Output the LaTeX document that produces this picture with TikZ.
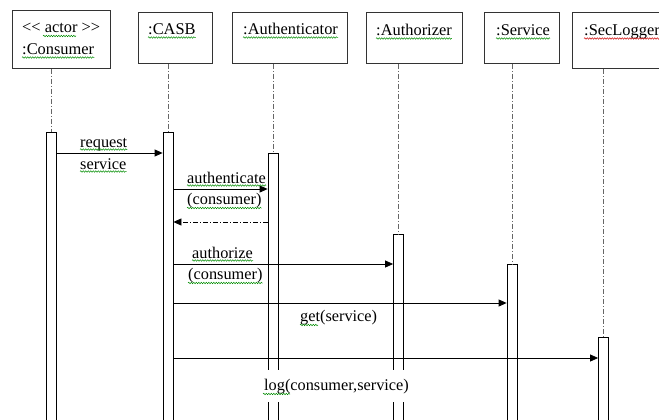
\documentclass[tikz,border=0pt]{standalone}
\usepackage{fontspec}
\setmainfont{Liberation Serif}
\usetikzlibrary{arrows.meta,decorations.pathmorphing}
\begin{document}
\begin{tikzpicture}[x=1pt,y=-1pt,
  objbox/.style={draw=black!80, line width=0.9pt, inner sep=0pt, anchor=north west},
  otext/.style={anchor=base west, inner sep=0pt, font=\fontsize{16.4}{20}\selectfont},
  lbl/.style={anchor=base west, inner sep=0pt, font=\fontsize{16.3}{20}\selectfont},
  lifeline/.style={draw=black!60, line width=0.8pt, dash pattern=on 5pt off 2pt on 1pt off 2pt},
  actbar/.style={draw=black, fill=white, line width=0.8pt, minimum width=10pt, inner sep=0pt, anchor=north},
  msg/.style={draw=black, line width=0.8pt, -{Triangle[length=8pt,width=7pt]}},
  ret/.style={msg, dash pattern=on 5pt off 2pt on 1pt off 2pt},
  squig/.style={draw=green!55!black, line width=0.5pt, decorate, decoration={snake, amplitude=0.7pt, segment length=2.5pt}},
  squigr/.style={squig, draw=red!80!black},
]
\path[use as bounding box] (0,0) rectangle (659,420);
\clip (0,0) rectangle (659,420);

% object boxes
\node[objbox, minimum width=98pt, minimum height=58pt] (consumer) at (12,10) {};
\node[objbox, minimum width=74pt, minimum height=51pt] (casb) at (138,12) {};
\node[objbox, minimum width=115pt, minimum height=51pt] (authn) at (232,12) {};
\node[objbox, minimum width=96pt, minimum height=51pt] (authz) at (366,12) {};
\node[objbox, minimum width=75pt, minimum height=51pt] (service) at (484,12) {};
\node[objbox, minimum width=110pt, minimum height=56pt] (logger) at (572,12) {};

% object names
\node[otext] (tactor) at (22,33) {{<}{<} actor {>}{>}};
\node[otext] (tcons) at (22,55) {:Consumer};
\node[otext] (tcasb) at (148,35) {:CASB};
\node[otext] (tauthn) at (243,35) {:Authenticator};
\node[otext] (tauthz) at (376,36) {:Authorizer};
\node[otext] (tserv) at (496,36) {:Service};
\node[otext] (tlog) at (584,36) {:SecLogger};

% activation bars
\node[actbar, minimum height=300pt] (cb) at (51,132) {};
\node[actbar, minimum height=300pt] (sb) at (168,132) {};
\node[actbar, minimum height=300pt] (ab) at (273,153) {};
\node[actbar, minimum height=300pt] (zb) at (398.5,234) {};
\node[actbar, minimum height=300pt] (vb) at (512,264) {};
\node[actbar, minimum height=300pt] (lb) at (603.5,337) {};

% lifelines
\draw[lifeline] (cb.north |- consumer.south) -- (cb.north);
\draw[lifeline] (sb.north |- casb.south) -- (sb.north);
\draw[lifeline] (ab.north |- authn.south) -- (ab.north);
\draw[lifeline] (zb.north |- authz.south) -- (zb.north);
\draw[lifeline] (vb.north |- service.south) -- (vb.north);
\draw[lifeline] (lb.north |- logger.south) -- (lb.north);

% message levels
\coordinate (m1) at (0,153);
\coordinate (m2) at (0,189);
\coordinate (m3) at (0,222);
\coordinate (m4) at (0,264);
\coordinate (m5) at (0,303);
\coordinate (m6) at (0,358);

\draw[msg] (cb.east |- m1) -- (sb.west |- m1);
\draw[msg] (sb.east |- m2) -- (ab.west |- m2);
\draw[ret] (ab.west |- m3) -- (sb.east |- m3);
\draw[msg] (sb.east |- m4) -- (zb.west |- m4);
\draw[msg] (sb.east |- m5) -- (vb.west |- m5);
\draw[msg] (sb.east |- m6) -- (lb.west |- m6);

% message labels
\node[lbl] (l1a) at (80,147) {request};
\node[lbl] (l1b) at (80,169) {service};
\node[lbl] (l2a) at (187,183) {authenticate};
\node[lbl] (l2b) at (187,204) {(consumer)};
\node[lbl] (l4a) at (192,258) {authorize};
\node[lbl] (l4b) at (188,279) {(consumer)};
\node[lbl] (l5) at (300,321) {get(service)};
\node[lbl, fill=white, inner xsep=1pt, text height=20pt, text depth=12pt] (l6) at (263,390) {log(consumer,service)};

% spell-check underlines
\draw[squig] (43,36) -- (76,36);
\draw[squig] ([yshift=-2.5pt]tcons.base west) -- ([yshift=-2.5pt]tcons.base east);
\draw[squig] ([yshift=-2.5pt]tcasb.base west) -- ([yshift=-2.5pt]tcasb.base east);
\draw[squig] ([yshift=-2.5pt]tauthn.base west) -- ([yshift=-2.5pt]tauthn.base east);
\draw[squig] ([yshift=-2.5pt]tauthz.base west) -- ([yshift=-2.5pt]tauthz.base east);
\draw[squig] ([yshift=-2.5pt]tserv.base west) -- ([yshift=-2.5pt]tserv.base east);
\draw[squigr] ([yshift=-2.5pt]tlog.base west) -- ([yshift=-2.5pt]tlog.base east);
\draw[squig] ([yshift=-2.5pt]l1a.base west) -- ([yshift=-2.5pt]l1a.base east);
\draw[squig] ([yshift=-2.5pt]l1b.base west) -- ([yshift=-2.5pt]l1b.base east);
\draw[squig] ([yshift=-2.5pt]l2a.base west) -- ([yshift=-2.5pt]l2a.base east);
\draw[squig] ([yshift=-4pt]l2b.base west) -- ([yshift=-4pt]l2b.base east);
\draw[squig] ([yshift=-2.5pt]l4a.base west) -- ([yshift=-2.5pt]l4a.base east);
\draw[squig] ([yshift=-4pt]l4b.base west) -- ([yshift=-4pt]l4b.base east);
\draw[squig] (300,325) -- (318,325);
\draw[squig] (263,394) -- (290,394);
\end{tikzpicture}
\end{document}
